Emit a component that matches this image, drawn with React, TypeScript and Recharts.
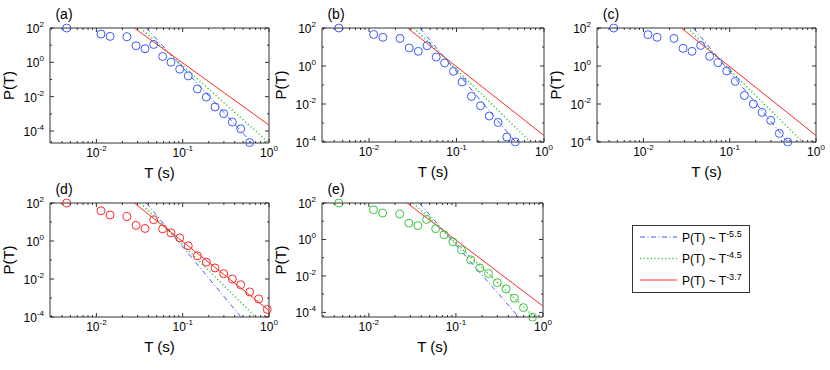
import React from "react";
import { LineChart, Line, XAxis, YAxis, ReferenceArea } from "recharts";

// duration bins (s), shared by every panel
const T_BINS = [
  0.00453, 0.0113, 0.0144, 0.0226, 0.0288, 0.0366, 0.0461, 0.0586, 0.0731, 0.0923,
  0.116, 0.148, 0.188, 0.237, 0.299, 0.376, 0.47, 0.597, 0.759, 0.955,
];

const P_A = [100, 44.7, 32.4, 30.9, 9.2, 6.2, 11.0, 2.19, 1.02, 0.4, 0.162, 0.0282, 0.0095, 0.00251, 0.00102, 0.000331, 0.000135, 0.0000214];
const P_B = [100, 45.7, 32.4, 28.2, 8.9, 5.9, 11.7, 2.95, 1.45, 0.525, 0.145, 0.0251, 0.0081, 0.00234, 0.00107, 0.000182, 0.0001];
const P_C = [100, 44.7, 32.4, 28.2, 8.5, 5.9, 12.0, 3.24, 1.51, 0.55, 0.155, 0.0282, 0.01, 0.00363, 0.00138, 0.000282, 0.0001];
const P_D = [100, 38.9, 23.4, 19.5, 6.6, 4.57, 13.2, 4.37, 2.69, 1.45, 0.56, 0.166, 0.0776, 0.038, 0.019, 0.01, 0.005, 0.00209, 0.00089, 0.000251];
const P_E = [100, 42.7, 28.2, 25.1, 7.9, 5.75, 12.6, 3.89, 1.82, 0.74, 0.269, 0.0759, 0.0275, 0.0135, 0.00427, 0.00195, 0.000603, 0.000182, 0.000055];

// power-law guide lines, end points
const FIT55_T = [0.038, 0.72];
const FIT55_P = [100, 1e-5];
const FIT45_T = [0.0325, 1];
const FIT45_P = [100, 2e-5];
const FIT37_T = [0.0275, 1];
const FIT37_P = [100, 2.2e-4];

const X_TICKS = [
  0.003, 0.004, 0.005, 0.006, 0.007, 0.008, 0.009, 0.01,
  0.02, 0.03, 0.04, 0.05, 0.06, 0.07, 0.08, 0.09, 0.1,
  0.2, 0.3, 0.4, 0.5, 0.6, 0.7, 0.8, 0.9, 1,
];
const Y_TICKS = [1e-4, 1e-3, 1e-2, 1e-1, 1, 10, 100];
const Y_LABELED = [-4, -2, 0, 2];
const X_MIN = 0.0029;

const BLUE = "#3d5cf7";
const GREEN = "#3cc43c";
const RED = "#ff2a2a";
const AXIS = "#333333";
const FONT = '"Liberation Sans", Arial, Helvetica, sans-serif';

const ML = 50;
const MT = 28;
const MR = 16;
const MB = 42;

const PANELS = [
  { tag: "(a)", left: 50, top: 28, w: 219, h: 115, yMin: 2.0e-5, values: P_A, color: BLUE },
  { tag: "(b)", left: 322, top: 28, w: 222, h: 114, yMin: 1e-4, values: P_B, color: BLUE },
  { tag: "(c)", left: 597, top: 28, w: 219, h: 114, yMin: 1e-4, values: P_C, color: BLUE },
  { tag: "(d)", left: 50, top: 203, w: 219, h: 114, yMin: 1e-4, values: P_D, color: RED },
  { tag: "(e)", left: 322, top: 203, w: 221, h: 114, yMin: 5.6e-5, values: P_E, color: GREEN },
];

const toPts = (ts: number[], ps: number[]) => ps.map((p, i) => ({ T: ts[i], P: p }));

const isMajor = (v: number) => {
  const e = Math.log10(v);
  return Math.abs(e - Math.round(e)) < 1e-6;
};

function Panel({ w, h, yMin, values, color }: any) {
  const xTicks = X_TICKS.filter((v) => v >= X_MIN && v <= 1.0001);
  const yTicks = Y_TICKS.filter((v) => v >= yMin * 0.999 && v <= 100.01);

  const xTick = (props: any) => {
    const { x, payload } = props;
    const v = payload.value;
    const major = isMajor(v);
    const len = major ? 4 : 2;
    const yb = MT + h;
    return (
      <g>
        <line x1={x} x2={x} y1={yb} y2={yb - len} stroke={AXIS} />
        <line x1={x} x2={x} y1={MT} y2={MT + len} stroke={AXIS} />
        {major && (
          <text x={x} y={yb + 14} textAnchor="middle" fontSize={12} fontFamily={FONT} fill="#000">
            10<tspan dy={-6} fontSize={8}>{Math.round(Math.log10(v))}</tspan>
          </text>
        )}
      </g>
    );
  };

  const yTick = (props: any) => {
    const { y, payload } = props;
    const e = Math.round(Math.log10(payload.value));
    const labeled = Y_LABELED.includes(e);
    const len = labeled ? 4 : 2;
    return (
      <g>
        <line x1={ML} x2={ML + len} y1={y} y2={y} stroke={AXIS} />
        <line x1={ML + w} x2={ML + w - len} y1={y} y2={y} stroke={AXIS} />
        {labeled && (
          <text x={ML - 6} y={y + 5} textAnchor="end" fontSize={12} fontFamily={FONT} fill="#000">
            10<tspan dy={-6} fontSize={8}>{e}</tspan>
          </text>
        )}
      </g>
    );
  };

  return (
    <LineChart width={w + ML + MR} height={h + MT + MB} margin={{ top: MT, left: ML - 1, right: MR, bottom: MB - 1 }}>
      <XAxis
        type="number"
        dataKey="T"
        scale="log"
        domain={[X_MIN, 1]}
        allowDataOverflow
        ticks={xTicks}
        interval={0}
        height={1}
        axisLine={false}
        tickLine={false}
        tick={xTick}
      />
      <YAxis
        type="number"
        scale="log"
        domain={[yMin, 100]}
        allowDataOverflow
        ticks={yTicks}
        interval={0}
        width={1}
        axisLine={false}
        tickLine={false}
        tick={yTick}
      />
      <ReferenceArea x1={X_MIN} x2={1} y1={yMin} y2={100} fill="none" stroke={AXIS} strokeWidth={1} ifOverflow="visible" />
      <Line
        data={toPts(T_BINS, values)}
        dataKey="P"
        stroke="none"
        dot={{ r: 4, stroke: color, fill: "none", strokeWidth: 1, clipDot: false }}
        activeDot={false}
        isAnimationActive={false}
      />
      <Line data={toPts(FIT55_T, FIT55_P)} dataKey="P" stroke={BLUE} strokeWidth={1} strokeDasharray="5 2.5 1 2.5" dot={false} activeDot={false} isAnimationActive={false} />
      <Line data={toPts(FIT45_T, FIT45_P)} dataKey="P" stroke={GREEN} strokeWidth={1.5} strokeDasharray="1.2 2.4" dot={false} activeDot={false} isAnimationActive={false} />
      <Line data={toPts(FIT37_T, FIT37_P)} dataKey="P" stroke={RED} strokeWidth={1} dot={false} activeDot={false} isAnimationActive={false} />
    </LineChart>
  );
}

const LEGEND = [
  { label: "-5.5", color: BLUE, dash: "5 2.5 1 2.5", width: 1 },
  { label: "-4.5", color: GREEN, dash: "1.2 2.4", width: 1.5 },
  { label: "-3.7", color: RED, dash: undefined, width: 1 },
];

export default function App() {
  return (
    <div style={{ position: "absolute", left: 0, top: 0, width: 830, height: 370, background: "#fff", overflow: "hidden" }}>
      {PANELS.map((p) => (
        <div key={p.tag} style={{ position: "absolute", left: p.left - ML, top: p.top - MT }}>
          <Panel {...p} />
        </div>
      ))}
      <svg width={830} height={370} style={{ position: "absolute", left: 0, top: 0, pointerEvents: "none" }}>
        {PANELS.map((p) => (
          <g key={p.tag} fontFamily={FONT} fill="#000">
            <text x={p.left + 14} y={p.top - 9} textAnchor="middle" fontSize={14}>{p.tag}</text>
            <text
              x={p.left - 42}
              y={p.top + p.h / 2}
              textAnchor="middle"
              dominantBaseline="central"
              fontSize={15}
              transform={`rotate(-90 ${p.left - 42} ${p.top + p.h / 2})`}
            >
              P(T)
            </text>
            <text x={p.left + p.w / 2} y={p.top + p.h + 35} textAnchor="middle" fontSize={15}>T (s)</text>
          </g>
        ))}
        <rect x={632.5} y={225.5} width={117} height={67} fill="#fff" stroke={AXIS} />
        {LEGEND.map((l, i) => {
          const y = 237 + i * 21.5;
          return (
            <g key={l.label}>
              <line x1={640} x2={677} y1={y} y2={y} stroke={l.color} strokeWidth={l.width} strokeDasharray={l.dash} />
              <text x={682} y={y + 4.5} fontSize={12} fontFamily={FONT} fill="#000">
                P(T) ~ T<tspan dy={-5} fontSize={9}>{l.label}</tspan>
              </text>
            </g>
          );
        })}
      </svg>
    </div>
  );
}
